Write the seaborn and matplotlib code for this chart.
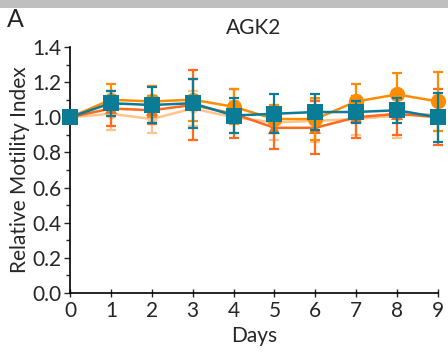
import numpy as np
import pandas as pd
import matplotlib
matplotlib.use("Agg")
import matplotlib.pyplot as plt
from matplotlib.patches import Rectangle
from matplotlib.ticker import MultipleLocator, FormatStrFormatter
import seaborn as sns

# ---------------- DATA ----------------
days = [0, 1, 2, 3, 4, 5, 6, 7, 8, 9]
series_names = ["s_peach", "s_tri", "s_orange", "s_teal"]
peach_mean = [1.00, 1.02, 0.99, 1.05, 1.00, 0.97, 0.98, 0.99, 1.01, 1.02]
peach_err = [0.00, 0.09, 0.08, 0.10, 0.09, 0.10, 0.12, 0.09, 0.13, 0.10]
tri_mean = [1.00, 1.05, 1.04, 1.07, 1.02, 0.94, 0.94, 1.00, 1.02, 1.00]
tri_err = [0.00, 0.10, 0.08, 0.20, 0.14, 0.12, 0.15, 0.12, 0.12, 0.16]
orange_mean = [1.00, 1.10, 1.09, 1.10, 1.06, 0.99, 0.99, 1.09, 1.13, 1.09]
orange_err = [0.00, 0.09, 0.09, 0.12, 0.10, 0.08, 0.12, 0.10, 0.12, 0.17]
teal_mean = [1.00, 1.08, 1.07, 1.08, 1.01, 1.02, 1.03, 1.03, 1.04, 1.00]
teal_err = [0.00, 0.07, 0.10, 0.14, 0.10, 0.11, 0.10, 0.06, 0.07, 0.14]

means = [peach_mean, tri_mean, orange_mean, teal_mean]
errs = [peach_err, tri_err, orange_err, teal_err]
colors = ["#FFC38C", "#FF6A1F", "#FF8C00", "#0A7C96"]
markers = ["o", "^", "o", "s"]
msizes = [7, 9, 11, 11]

df = pd.concat(
    [pd.DataFrame({"day": days, "rmi": m, "err": e, "series": n})
     for n, m, e in zip(series_names, means, errs)],
    ignore_index=True,
)

# ---------------- PLOT ----------------
sns.set_style("white")
plt.rcParams["font.family"] = ["Lato", "DejaVu Sans"]
FS = 15

fig = plt.figure(figsize=(4.48, 3.55), dpi=100)
ax = fig.add_axes([70 / 448, 1 - 293 / 355, 368 / 448, 246 / 355])
fig.add_artist(Rectangle((0, 1 - 8 / 355), 1, 8 / 355, transform=fig.transFigure,
                         color="#BFBFBF", lw=0))

for i, name in enumerate(series_names):
    sub = df[df["series"] == name]
    ax.errorbar(sub["day"], sub["rmi"], yerr=sub["err"], fmt="none",
                ecolor=colors[i], elinewidth=1.6, capsize=3.5, capthick=1.6,
                zorder=2 + i, clip_on=False)
    sns.lineplot(data=sub, x="day", y="rmi", ax=ax, color=colors[i],
                 marker=markers[i], markersize=msizes[i], markeredgewidth=0,
                 linewidth=1.8, zorder=2.5 + i, clip_on=False, legend=False)

ax.set_xlim(0, 9)
ax.set_ylim(0, 1.4)
ax.set_xticks(days)
ax.yaxis.set_major_locator(MultipleLocator(0.2))
ax.yaxis.set_minor_locator(MultipleLocator(0.1))
ax.yaxis.set_major_formatter(FormatStrFormatter("%.1f"))
ax.tick_params(axis="y", which="major", direction="out", length=4, width=1,
               labelsize=FS, pad=2, left=True)
ax.tick_params(axis="y", which="minor", direction="out", length=3, width=1, left=True)
ax.tick_params(axis="x", direction="inout", length=6, width=1, labelsize=FS,
               pad=3, bottom=True)
sns.despine(ax=ax)
for sp in ["left", "bottom"]:
    ax.spines[sp].set_color("black")
    ax.spines[sp].set_linewidth(1.2)

ax.set_xlabel("Days", fontsize=FS, labelpad=3)
ax.set_ylabel("Relative Motility Index", fontsize=FS, labelpad=2)
ax.set_title("AGK2", fontsize=FS, pad=9)
fig.text(0.015, 0.925, "A", fontsize=18)

fig.savefig("out.png", dpi=100)
